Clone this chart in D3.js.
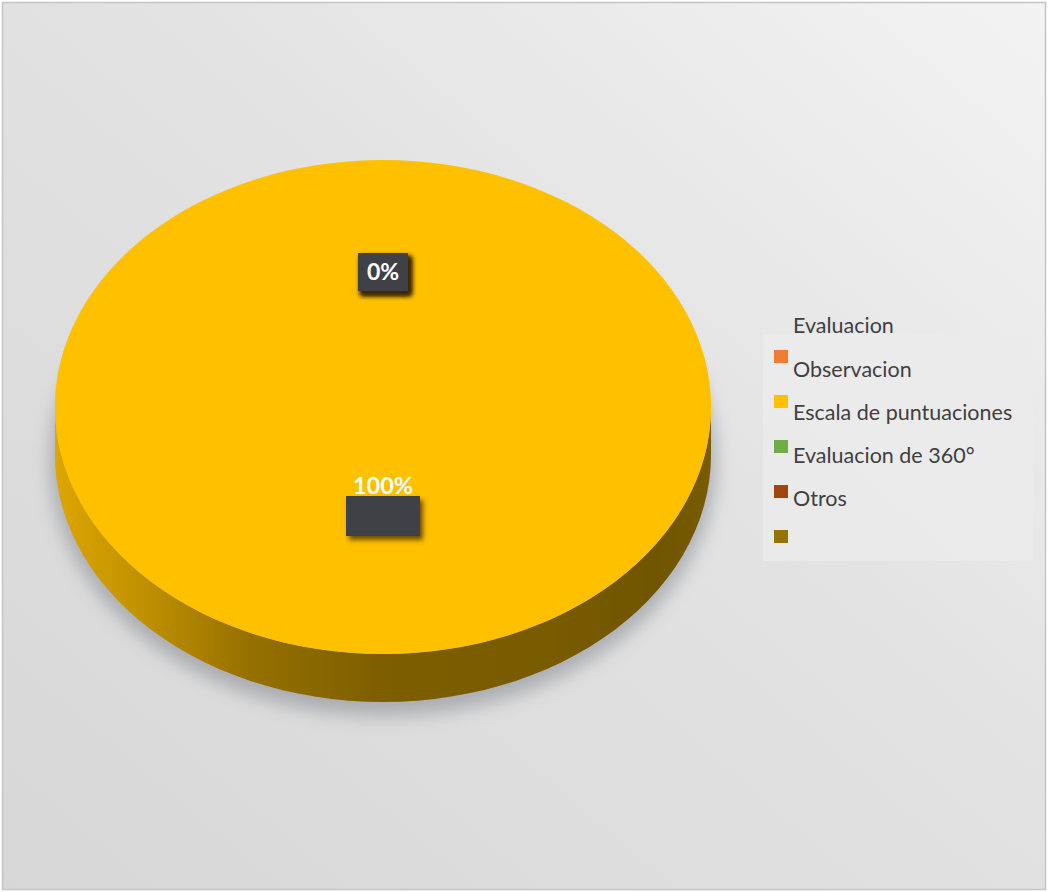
<!DOCTYPE html>
<html>
<head>
<meta charset="utf-8">
<script src="https://cdn.jsdelivr.net/npm/d3@7/dist/d3.min.js"></script>
<style>
  html, body { margin: 0; padding: 0; background: #fff; }
  svg text { font-family: Lato, "Open Sans", sans-serif; }
</style>
</head>
<body>
<div id="chart"></div>
<script>
// data
const categories = ['Observacion', 'Escala de puntuaciones', 'Evaluacion de 360°', 'Otros', '']
const values = [0, 100, 0, 0, 0]
const colors = ['#ED7D31', '#FFC000', '#70AD47', '#9E480E', '#997300']
const legendTitle = 'Evaluacion'

const width = 1048, height = 892
const cx = 383, cy = 407, rx = 328, ry = 247, depth = 48
const squash = ry / rx

const svg = d3.select('#chart').append('svg')
    .attr('width', width)
    .attr('height', height)

const defs = svg.append('defs')

// background gradient
const bg = defs.append('linearGradient')
    .attr('id', 'bg').attr('x1', '0').attr('y1', '1').attr('x2', '1').attr('y2', '0')
bg.append('stop').attr('offset', '0').attr('stop-color', '#d7d7d7')
bg.append('stop').attr('offset', '0.55').attr('stop-color', '#e2e2e2')
bg.append('stop').attr('offset', '1').attr('stop-color', '#f3f3f3')

const blur = defs.append('filter').attr('id', 'blur')
    .attr('x', '-20%').attr('y', '-20%').attr('width', '140%').attr('height', '140%')
blur.append('feGaussianBlur').attr('stdDeviation', 9)

const boxShadow = defs.append('filter').attr('id', 'boxShadow')
    .attr('x', '-50%').attr('y', '-50%').attr('width', '200%').attr('height', '200%')
boxShadow.append('feDropShadow')
    .attr('dx', 3).attr('dy', 4).attr('stdDeviation', 2.5)
    .attr('flood-color', '#3a2a00').attr('flood-opacity', 0.75)

svg.append('rect')
    .attr('x', 2.5).attr('y', 2.5)
    .attr('width', width - 5).attr('height', height - 5)
    .attr('fill', 'url(#bg)')
    .attr('stroke', '#c4c4c4')
    .attr('stroke-width', 1.5)

// pie layout
const pie = d3.pie().sort(null).value(d => d)
const arcs = pie(values)

const plot = svg.append('g').attr('class', 'pie')

// soft shadow under the pie
plot.append('ellipse')
    .attr('cx', cx).attr('cy', cy + depth + 6)
    .attr('rx', rx + 5).attr('ry', ry + 8)
    .attr('fill', '#8a8d94')
    .attr('opacity', 0.6)
    .attr('filter', 'url(#blur)')

// side walls (only the front half is visible)
const pt = (a, dy) => [cx + rx * Math.sin(a), cy - ry * Math.cos(a) + dy]

arcs.forEach((d, i) => {
    const s = Math.max(d.startAngle, Math.PI / 2)
    const e = Math.min(d.endAngle, Math.PI * 1.5)
    if (e <= s) return
    const base = d3.color(colors[i])
    const gid = 'side' + i
    const g = defs.append('linearGradient').attr('id', gid)
        .attr('gradientUnits', 'userSpaceOnUse')
        .attr('x1', cx - rx).attr('y1', 0).attr('x2', cx + rx).attr('y2', 0)
    ;[[0, 0.4], [0.12, 0.75], [0.3, 1.5], [0.5, 2.0], [0.75, 2.1], [0.92, 2.3], [1, 2.1]].forEach(([o, k]) => {
        g.append('stop').attr('offset', o).attr('stop-color', base.darker(k).formatHex())
    })
    const steps = d3.range(0, 61).map(t => s + (e - s) * t / 60)
    const top = steps.map(a => pt(a, 0))
    const bottom = steps.slice().reverse().map(a => pt(a, depth))
    plot.append('path')
        .attr('d', d3.line()(top.concat(bottom)) + 'Z')
        .attr('fill', 'url(#' + gid + ')')
})

// top face
const arc = d3.arc().innerRadius(0).outerRadius(rx)
plot.append('g')
    .attr('transform', `translate(${cx},${cy}) scale(1,${squash})`)
    .selectAll('path')
    .data(arcs)
    .join('path')
        .attr('d', arc)
        .attr('fill', (d, i) => colors[i])

// data labels
const total = d3.sum(values)
const labelArc = d3.arc().innerRadius(162).outerRadius(162)
const labels = plot.append('g').attr('class', 'labels')
arcs.forEach((d, i) => {
    const [lx, ly] = labelArc.centroid(d)
    const x = cx + lx, y = cy - 13 + ly * squash
    const text = d3.format('.0%')(d.value / total)
    const full = d.value === total
    const w = full ? 74 : 50, h = full ? 40 : 38
    labels.append('rect')
        .attr('x', x - w / 2).attr('y', y - h / 2)
        .attr('width', w).attr('height', h)
        .attr('fill', '#3f3f47')
        .attr('filter', 'url(#boxShadow)')
    labels.append('text')
        .attr('x', x)
        .attr('y', full ? y - h / 2 - 2 : y + 8)
        .attr('text-anchor', 'middle')
        .attr('fill', '#ffffff')
        .attr('font-weight', 'bold')
        .attr('font-size', full ? 23.5 : 23)
        .text(text)
})

// legend
const legend = svg.append('g').attr('class', 'legend')
legend.append('rect')
    .attr('x', 763).attr('y', 334)
    .attr('width', 270).attr('height', 227)
    .attr('fill', '#ebebeb')
    .attr('opacity', 0.85)
legend.append('text')
    .attr('x', 793).attr('y', 333)
    .attr('fill', '#404040')
    .attr('font-size', 21.5)
    .text(legendTitle)

const items = legend.selectAll('g.item')
    .data(categories)
    .join('g')
        .attr('class', 'item')
items.append('rect')
    .attr('x', 774)
    .attr('y', (d, i) => 350 + i * 45)
    .attr('width', 14).attr('height', 13)
    .attr('fill', (d, i) => colors[i])
items.append('text')
    .attr('x', 793)
    .attr('y', (d, i) => 377 + i * 43)
    .attr('fill', '#404040')
    .attr('font-size', 21.5)
    .text(d => d)
</script>
</body>
</html>
